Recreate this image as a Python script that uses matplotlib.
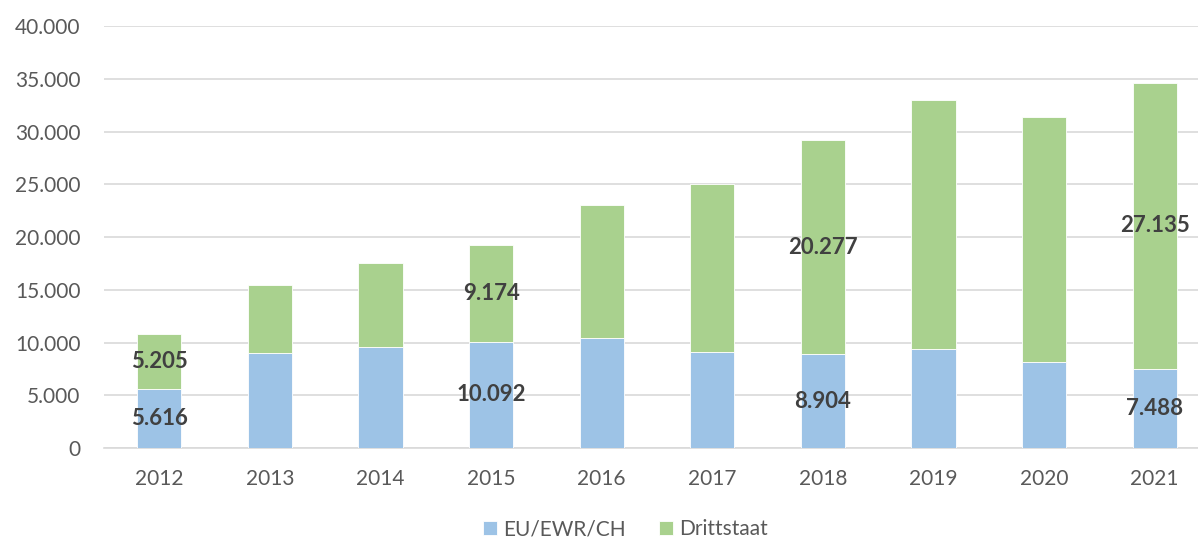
import matplotlib
matplotlib.use("Agg")
import matplotlib.pyplot as plt
from matplotlib.ticker import FuncFormatter

years = ["2012", "2013", "2014", "2015", "2016", "2017", "2018", "2019", "2020", "2021"]
eu = [5616, 8960, 9620, 10092, 10436, 9080, 8904, 9374, 8170, 7488]
dritt = [5205, 6510, 7910, 9174, 12600, 15950, 20277, 23630, 23190, 27135]
label_eu = {"2012": "5.616", "2015": "10.092", "2018": "8.904", "2021": "7.488"}
label_dr = {"2012": "5.205", "2015": "9.174", "2018": "20.277", "2021": "27.135"}

plt.rcParams['font.family'] = ['Lato', 'DejaVu Sans']

fig = plt.figure(figsize=(11.98, 5.44), dpi=100)
ax = fig.add_axes([104 / 1198, 0.1765, 1106 / 1198, 0.7755])

x = list(range(len(years)))
blue = "#9DC3E6"
green = "#A9D18E"
w = 0.40
b1 = ax.bar(x, eu, width=w, color=blue, edgecolor="white", linewidth=0.6, label="EU/EWR/CH", zorder=3)
b2 = ax.bar(x, dritt, width=w, bottom=eu, color=green, edgecolor="white", linewidth=0.6, label="Drittstaat", zorder=3)

for i, y in enumerate(years):
    if y in label_eu:
        ax.text(i, eu[i] / 2, label_eu[y], ha="center", va="center", fontsize=16,
                fontweight="bold", color="#404040", zorder=4)
    if y in label_dr:
        ax.text(i, eu[i] + dritt[i] / 2, label_dr[y], ha="center", va="center", fontsize=16,
                fontweight="bold", color="#404040", zorder=4)

ax.set_xlim(-0.5, len(years) - 0.5)
ax.set_ylim(0, 40000)
ax.set_yticks(range(0, 40001, 5000))
ax.yaxis.set_major_formatter(FuncFormatter(lambda v, p: f"{int(v):,}".replace(",", ".")))
ax.set_xticks(x)
ax.set_xticklabels(years)
ax.tick_params(axis="both", length=0, labelsize=15, labelcolor="#595959")
ax.tick_params(axis="y", pad=17)
ax.tick_params(axis="x", pad=15)
ax.grid(axis="y", color="#D9D9D9", linewidth=1.2, zorder=0)
for s in ["top", "right", "left"]:
    ax.spines[s].set_visible(False)
ax.spines["bottom"].set_color("#D9D9D9")
ax.spines["bottom"].set_linewidth(1.2)

fig.legend(handles=[b1, b2], loc="lower center", bbox_to_anchor=(0.522, -0.026), ncol=2,
           frameon=False, fontsize=15, labelcolor="#595959", handlelength=0.65,
           handleheight=0.65, handletextpad=0.3, columnspacing=1.6)

fig.savefig("out.png", dpi=100)
